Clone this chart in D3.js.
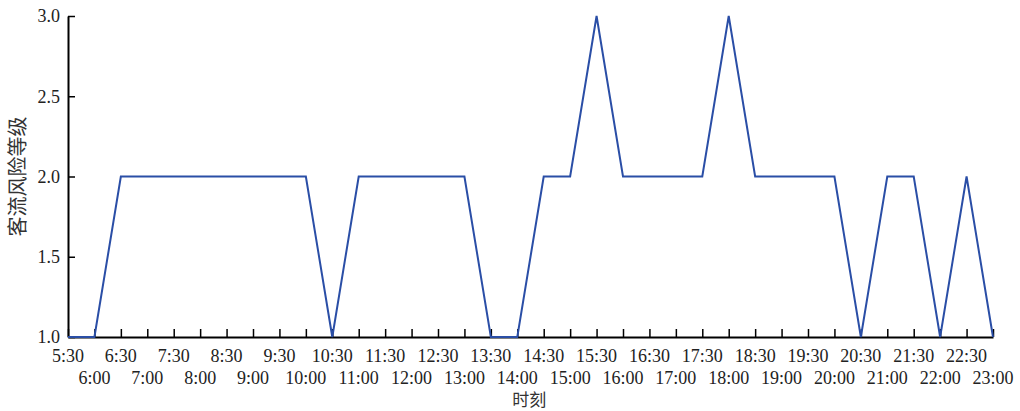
<!DOCTYPE html>
<html>
<head>
<meta charset="utf-8">
<script src="https://cdn.jsdelivr.net/npm/d3@7"></script>
<style>
  body { margin: 0; background: #fff; }
  svg { display: block; }
</style>
</head>
<body>
<svg width="1020" height="411"></svg>
<script>
// half-hour time slots, 5:30 .. 23:00
const times = ["5:30","6:00","6:30","7:00","7:30","8:00","8:30","9:00","9:30","10:00",
  "10:30","11:00","11:30","12:00","12:30","13:00","13:30","14:00","14:30","15:00",
  "15:30","16:00","16:30","17:00","17:30","18:00","18:30","19:00","19:30","20:00",
  "20:30","21:00","21:30","22:00","22:30","23:00"];
const riskLevel = [1,1,2,2,2,2,2,2,2,2,
  1,2,2,2,2,2,1,1,2,2,
  3,2,2,2,2,3,2,2,2,2,
  1,2,2,1,2,1];
const yTicks = [1.0, 1.5, 2.0, 2.5, 3.0];
const xTitle = "时刻";
const yTitle = "客流风险等级";

const svg = d3.select("svg");
const margin = { top: 16, right: 27, bottom: 74, left: 68 };
const width = +svg.attr("width") - margin.left - margin.right;
const height = +svg.attr("height") - margin.top - margin.bottom;
const g = svg.append("g").attr("transform", `translate(${margin.left},${margin.top})`);

const serif = "'Liberation Serif', 'Times New Roman', serif";
const cjk = "'Noto Sans CJK SC', sans-serif";

const x = d3.scalePoint().domain(times).range([0, width]);
const y = d3.scaleLinear().domain([1, 3]).range([height, 0]);

// x axis, ticks pointing inward
const xAxis = g.append("g")
  .attr("transform", `translate(0,${height})`)
  .call(d3.axisBottom(x).tickSize(-8).tickSizeOuter(0).tickFormat(""));
xAxis.select(".domain").attr("stroke", "#000").attr("stroke-width", 2);
xAxis.selectAll(".tick line").attr("stroke", "#000").attr("stroke-width", 1.5);

// alternating two-row labels
g.append("g").selectAll("text")
  .data(times)
  .join("text")
  .attr("x", d => x(d))
  .attr("y", (d, i) => height + (i % 2 === 0 ? 25 : 47))
  .attr("text-anchor", "middle")
  .attr("font-family", serif)
  .attr("font-size", "18px")
  .attr("fill", "#222")
  .text(d => d);

// y axis
const yAxis = g.append("g")
  .call(d3.axisLeft(y).tickValues(yTicks).tickSize(-7).tickSizeOuter(0)
    .tickFormat(d3.format(".1f")).tickPadding(8));
yAxis.select(".domain").attr("stroke", "#000").attr("stroke-width", 2);
yAxis.selectAll(".tick line").attr("stroke", "#000").attr("stroke-width", 1.5);
yAxis.selectAll(".tick text")
  .attr("font-family", serif)
  .attr("font-size", "18px")
  .attr("fill", "#222");

// line
const line = d3.line()
  .x((d, i) => x(times[i]))
  .y(d => y(d));

g.append("path")
  .datum(riskLevel)
  .attr("fill", "none")
  .attr("stroke", "#2a4ea6")
  .attr("stroke-width", 2)
  .attr("stroke-linejoin", "miter")
  .attr("d", line);

// axis titles
svg.append("text")
  .attr("x", margin.left + x("14:00") + 12)
  .attr("y", 406)
  .attr("text-anchor", "middle")
  .attr("font-family", cjk)
  .attr("font-size", "17px")
  .attr("fill", "#333")
  .text(xTitle);

svg.append("text")
  .attr("transform", `translate(25,${margin.top + y(2)}) rotate(-90)`)
  .attr("text-anchor", "middle")
  .attr("font-family", cjk)
  .attr("font-size", "20px")
  .attr("fill", "#333")
  .text(yTitle);
</script>
</body>
</html>
